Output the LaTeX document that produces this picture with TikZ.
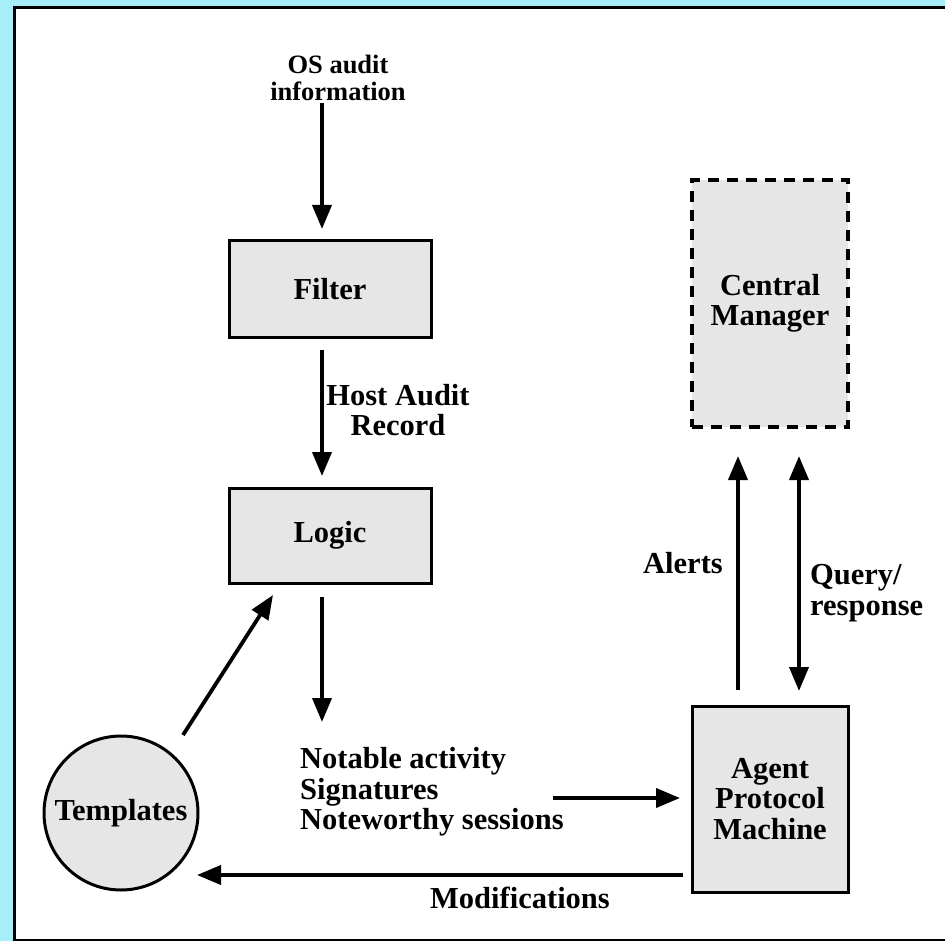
\documentclass[tikz,border=0pt]{standalone}
\usepackage{fontspec}
\setmainfont{Liberation Serif}
\usetikzlibrary{arrows.meta}
\definecolor{bgblue}{RGB}{168,238,248}
\definecolor{boxgray}{RGB}{230,230,230}
\begin{document}
\begin{tikzpicture}[x=1pt,y=-1pt,
  lbl/.style={inner sep=0pt, align=center, font=\bfseries\fontsize{30.5}{30.5}\selectfont},
  boxnode/.style={draw, line width=3pt, fill=boxgray, lbl},
  arr/.style={line width=3.8pt, -{Triangle[length=24pt,width=19pt]}},
  darr/.style={line width=3.8pt, {Triangle[length=24pt,width=19pt]}-{Triangle[length=24pt,width=19pt]}}]
\useasboundingbox (0,0) rectangle (945,941);
\fill[bgblue] (0,0) rectangle (945,941);
\draw[line width=3pt, fill=white] (14,7.5) rectangle (960,940);

% boxes
\node[boxnode, minimum width=202pt, minimum height=96pt] (filter) at (330,289) {Filter};
\node[boxnode, minimum width=202pt, minimum height=95pt] (logic) at (330,535.5) {Logic};
\node[boxnode, dash pattern=on 11pt off 8pt, line width=3.5pt, minimum width=156pt, minimum height=247pt] (cm) at (770,303.5) {Central\\Manager};
\node[boxnode, minimum width=156pt, minimum height=186pt] (apm) at (770,799) {Agent\\Protocol\\Machine};
\node[boxnode, circle, minimum size=154pt] (tpl) at (121,813) {Templates};

% texts
\node[lbl, font=\bfseries\fontsize{26.5}{26.5}\selectfont] (os) at (338,78) {OS audit\\information};
\node[lbl] (har) at (398,410) {Host Audit\\Record};
\node[lbl, align=left, anchor=west] (notable) at (300,792) {Notable activity\\Signatures\\Noteworthy sessions};
\node[lbl] (alerts) at (683,563) {Alerts};
\node[lbl, align=left, anchor=west] (query) at (810,593) {Query/\\response};
\node[lbl] (mods) at (520,898) {Modifications};

% connector end points
\coordinate (a1s) at (322,103); \coordinate (a1e) at (322,229);
\coordinate (a2s) at (322,350); \coordinate (a2e) at (322,476);
\coordinate (a3s) at (322,597); \coordinate (a3e) at (322,722);
\coordinate (a4s) at (553,798); \coordinate (a4e) at (680,798);
\coordinate (a5s) at (738,690); \coordinate (a5e) at (738,456);
\coordinate (a6s) at (799,456); \coordinate (a6e) at (799,691);
\coordinate (a7s) at (683,875); \coordinate (a7e) at (197,875);
\coordinate (a8s) at (183,735); \coordinate (a8e) at (273,595);

\draw[arr] (a1s) -- (a1e);
\draw[arr] (a2s) -- (a2e);
\draw[arr] (a3s) -- (a3e);
\draw[arr] (a4s) -- (a4e);
\draw[arr] (a5s) -- (a5e);
\draw[darr] (a6s) -- (a6e);
\draw[arr] (a7s) -- (a7e);
\draw[arr] (a8s) -- (a8e);
\end{tikzpicture}
\end{document}
